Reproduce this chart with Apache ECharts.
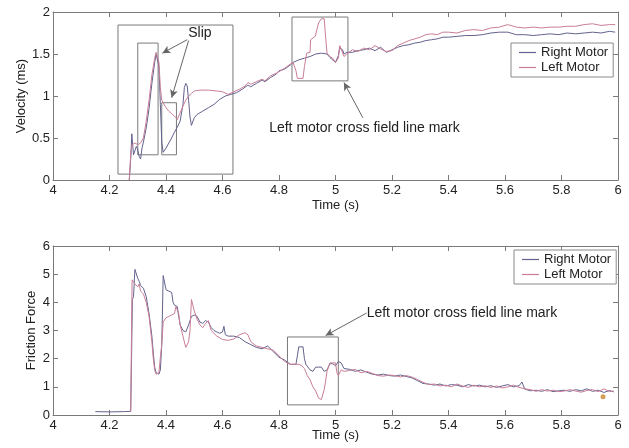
<!DOCTYPE html>
<html>
<head>
<meta charset="utf-8">
<script src="https://cdn.jsdelivr.net/npm/echarts@6/dist/echarts.min.js"></script>
<style>
html,body{margin:0;padding:0;background:#fff;}
#c{width:629px;height:448px;}
</style>
</head>
<body>
<div id="c"></div>
<script>
// ---------- DATA ----------
const timeTicks = ['4','4.2','4.4','4.6','4.8','5','5.2','5.4','5.6','5.8','6'];
const seriesNames = ['Right Motor', 'Left Motor'];

// Velocity (ms) vs Time (s) — [time, value]
const velRight = [
[4.270,0],[4.276,0.30],[4.279,0.55],[4.283,0.55],[4.285,0.30],[4.29,0.32],[4.295,0.40],[4.30,0.36],[4.305,0.28],[4.31,0.25],
[4.315,0.38],[4.32,0.45],[4.33,0.62],[4.34,0.85],[4.35,1.15],[4.36,1.40],[4.365,1.50],[4.37,1.48],[4.375,1.35],[4.38,0.90],
[4.385,0.45],[4.39,0.33],[4.395,0.33],[4.40,0.38],[4.41,0.44],[4.42,0.50],[4.43,0.57],[4.44,0.63],[4.45,0.70],[4.46,0.90],
[4.465,1.10],[4.47,1.15],[4.475,1.12],[4.48,0.95],[4.485,0.75],[4.49,0.65],[4.495,0.66],[4.50,0.74],[4.51,0.78],[4.52,0.80],
[4.53,0.82],[4.55,0.86],[4.57,0.90],[4.59,0.96],[4.61,1.00],[4.63,1.02],[4.65,1.04],[4.67,1.08],[4.69,1.13],[4.70,1.11],
[4.72,1.15],[4.74,1.19],[4.75,1.17],[4.77,1.22],[4.79,1.26],[4.80,1.30],[4.82,1.32],[4.84,1.37],[4.85,1.40],[4.87,1.43],
[4.89,1.45],[4.91,1.47],[4.93,1.50],[4.95,1.51],[4.97,1.50],[4.98,1.46],[4.99,1.43],[5.00,1.40],[5.01,1.48],[5.015,1.57],
[5.025,1.55],[5.03,1.50],[5.04,1.52],[5.06,1.52],[5.08,1.54],[5.10,1.55],[5.12,1.57],[5.14,1.54],[5.16,1.58],[5.18,1.52],
[5.20,1.55],[5.22,1.58],[5.24,1.60],[5.26,1.61],[5.28,1.63],[5.30,1.64],[5.32,1.66],[5.34,1.67],[5.36,1.68],[5.38,1.70],
[5.40,1.70],[5.43,1.71],[5.46,1.72],[5.49,1.72],[5.52,1.73],[5.55,1.75],[5.58,1.76],[5.61,1.76],[5.64,1.73],[5.67,1.73],
[5.70,1.72],[5.73,1.73],[5.76,1.74],[5.79,1.73],[5.82,1.75],[5.85,1.74],[5.88,1.75],[5.91,1.76],[5.94,1.75],[5.97,1.77],[5.99,1.76]
];
const velLeft = [
[4.270,0],[4.276,0.35],[4.28,0.42],[4.29,0.44],[4.30,0.42],[4.31,0.44],[4.32,0.50],[4.33,0.70],[4.34,0.95],[4.35,1.25],
[4.36,1.45],[4.365,1.52],[4.37,1.53],[4.375,1.40],[4.38,1.10],[4.385,0.95],[4.39,0.92],[4.40,0.86],[4.41,0.82],[4.42,0.79],
[4.43,0.76],[4.44,0.72],[4.45,0.80],[4.46,0.88],[4.47,0.95],[4.48,1.00],[4.49,1.03],[4.50,1.06],[4.52,1.07],[4.55,1.07],
[4.58,1.06],[4.60,1.05],[4.62,1.02],[4.64,1.05],[4.66,1.08],[4.68,1.12],[4.69,1.16],[4.70,1.14],[4.72,1.17],[4.74,1.20],
[4.75,1.18],[4.77,1.24],[4.79,1.27],[4.80,1.29],[4.82,1.33],[4.84,1.38],[4.85,1.40],[4.86,1.30],[4.865,1.21],[4.885,1.21],
[4.89,1.35],[4.898,1.51],[4.91,1.52],[4.912,1.67],[4.928,1.71],[4.935,1.80],[4.94,1.87],[4.95,1.92],[4.96,1.92],[4.965,1.70],
[4.97,1.51],[4.98,1.47],[4.99,1.45],[5.00,1.40],[5.01,1.45],[5.015,1.60],[5.022,1.60],[5.03,1.47],[5.04,1.50],[5.06,1.55],
[5.08,1.53],[5.10,1.57],[5.12,1.55],[5.14,1.60],[5.16,1.56],[5.18,1.53],[5.20,1.54],[5.22,1.60],[5.24,1.63],[5.26,1.66],
[5.28,1.68],[5.30,1.70],[5.32,1.73],[5.34,1.74],[5.36,1.73],[5.38,1.76],[5.40,1.76],[5.43,1.75],[5.46,1.78],[5.49,1.79],
[5.52,1.78],[5.55,1.81],[5.58,1.82],[5.61,1.85],[5.64,1.82],[5.67,1.81],[5.70,1.82],[5.73,1.81],[5.76,1.82],[5.79,1.82],
[5.82,1.83],[5.85,1.83],[5.88,1.85],[5.91,1.86],[5.94,1.84],[5.97,1.85],[5.99,1.85]
];

// Friction Force vs Time (s) — [time, value]
const fricRight = [
[4.15,0.12],[4.20,0.11],[4.25,0.12],[4.275,0.13],[4.278,2.0],[4.281,4.1],[4.285,4.2],[4.29,5.17],[4.295,5.17],[4.30,4.85],
[4.305,4.75],[4.31,4.6],[4.32,4.5],[4.33,4.2],[4.34,3.6],[4.35,2.8],[4.355,2.2],[4.36,1.7],[4.365,1.5],[4.37,1.45],
[4.375,1.45],[4.38,1.6],[4.385,2.5],[4.39,4.95],[4.395,4.9],[4.40,4.45],[4.41,4.4],[4.42,4.35],[4.425,4.0],[4.43,3.9],
[4.44,3.85],[4.445,3.5],[4.45,3.2],[4.46,3.0],[4.47,2.95],[4.48,3.2],[4.49,3.5],[4.50,3.55],[4.51,3.5],[4.52,3.3],
[4.53,3.25],[4.54,3.35],[4.55,3.3],[4.56,3.1],[4.57,3.0],[4.58,2.95],[4.59,2.9],[4.60,2.95],[4.605,3.15],[4.61,2.85],
[4.62,2.8],[4.64,2.8],[4.66,2.75],[4.68,2.6],[4.70,2.5],[4.72,2.4],[4.74,2.35],[4.76,2.45],[4.78,2.25],[4.80,2.05],
[4.82,1.95],[4.84,1.8],[4.86,1.8],[4.865,2.1],[4.87,2.42],[4.885,2.42],[4.89,2.0],[4.895,1.8],[4.90,1.8],[4.91,1.6],
[4.92,1.55],[4.93,1.7],[4.95,1.7],[4.96,1.55],[4.97,1.6],[4.98,1.82],[4.99,1.82],[5.00,1.75],[5.01,1.9],[5.02,1.85],
[5.03,1.65],[5.05,1.62],[5.07,1.55],[5.09,1.60],[5.11,1.52],[5.13,1.45],[5.15,1.42],[5.17,1.45],[5.19,1.40],[5.21,1.38],
[5.23,1.42],[5.25,1.37],[5.27,1.32],[5.29,1.22],[5.31,1.12],[5.33,1.10],[5.35,1.06],[5.37,1.10],[5.39,1.03],[5.41,1.08],
[5.43,1.06],[5.45,1.00],[5.47,1.08],[5.49,1.03],[5.51,1.06],[5.53,1.00],[5.55,1.04],[5.57,0.98],[5.59,1.03],[5.61,1.08],
[5.63,1.00],[5.65,1.04],[5.66,1.17],[5.67,0.92],[5.69,0.86],[5.71,0.88],[5.73,0.84],[5.75,0.90],[5.77,0.83],[5.79,0.86],
[5.81,0.88],[5.83,0.84],[5.85,0.90],[5.87,0.86],[5.89,0.93],[5.91,0.84],[5.93,0.88],[5.95,0.80],[5.97,0.87],[5.985,0.82]
];
const fricLeft = [
[4.275,0.13],[4.278,3.0],[4.28,4.8],[4.285,4.8],[4.29,4.65],[4.30,4.55],[4.305,4.65],[4.31,4.4],[4.32,4.3],[4.33,4.0],
[4.34,3.5],[4.35,2.6],[4.355,2.0],[4.36,1.6],[4.365,1.45],[4.37,1.45],[4.375,1.5],[4.38,2.05],[4.385,2.5],[4.39,3.3],
[4.40,3.45],[4.41,3.5],[4.42,3.55],[4.43,3.6],[4.435,3.85],[4.44,3.85],[4.445,3.6],[4.45,3.2],[4.46,2.8],[4.47,2.4],
[4.475,2.35],[4.48,2.6],[4.485,3.0],[4.49,4.1],[4.495,4.05],[4.50,3.7],[4.51,3.4],[4.52,3.2],[4.53,3.1],[4.54,3.25],
[4.55,3.35],[4.56,3.0],[4.58,2.8],[4.60,2.68],[4.62,2.65],[4.64,2.7],[4.66,2.85],[4.68,2.92],[4.69,2.85],[4.70,2.6],
[4.72,2.45],[4.74,2.4],[4.76,2.35],[4.78,2.3],[4.80,2.1],[4.82,1.9],[4.84,1.8],[4.87,1.8],[4.88,1.75],[4.89,1.65],
[4.90,1.4],[4.91,1.25],[4.92,1.0],[4.93,0.85],[4.94,0.6],[4.95,0.55],[4.955,0.58],[4.96,0.9],[4.965,1.2],[4.97,1.55],
[4.98,1.85],[4.99,1.85],[5.00,1.85],[5.005,1.5],[5.01,1.4],[5.02,1.6],[5.03,1.55],[5.05,1.58],[5.07,1.62],[5.09,1.50],
[5.11,1.55],[5.13,1.48],[5.15,1.40],[5.17,1.38],[5.19,1.42],[5.21,1.40],[5.23,1.35],[5.25,1.40],[5.27,1.35],[5.29,1.26],
[5.31,1.16],[5.33,1.08],[5.35,1.10],[5.37,1.03],[5.39,1.06],[5.41,1.00],[5.43,1.10],[5.45,1.03],[5.47,0.98],[5.49,1.06],
[5.51,1.00],[5.53,1.04],[5.55,0.98],[5.57,1.03],[5.59,0.96],[5.61,1.00],[5.63,1.06],[5.65,0.98],[5.67,0.93],[5.69,0.90],
[5.71,0.84],[5.73,0.90],[5.75,0.85],[5.77,0.88],[5.79,0.83],[5.81,0.85],[5.83,0.90],[5.85,0.85],[5.87,0.81],[5.89,0.87],
[5.91,0.90],[5.93,0.83],[5.95,0.93],[5.97,0.83],[5.985,0.85]
];
const fricMarker = [[5.947, 0.65]];

// Annotations (data coordinates)
const velBoxes = [[[4.23,0.07],[4.637,1.845]], [[4.30,0.30],[4.372,1.63]], [[4.385,0.30],[4.437,0.92]], [[4.846,1.18],[5.044,1.94]]];
const velArrows = [[[4.475,1.67],[4.387,1.51]], [[4.48,1.66],[4.42,0.98]], [[5.097,0.74],[5.03,1.16]]];
const velTexts = [['Slip',[4.52,1.75],'inside'], ['Left motor cross field line mark',[4.765,0.62],'right']];
const fricBoxes = [[[4.83,0.36],[5.01,2.77]]];
const fricArrows = [[[5.11,3.62],[4.965,2.82]]];
const fricTexts = [['Left motor cross field line mark',[5.11,3.62],'right']];

// ---------- CHART ----------
const RIGHT_C = '#62628e';
const LEFT_C = '#c97e96';
const AX_C = '#7a7a7a';
const FONT = 'Liberation Sans, Arial, sans-serif';

const chart = echarts.init(document.getElementById('c'), null, {renderer:'canvas'});

function box(b){ return [{coord:b[0]},{coord:b[1]}]; }
function arrow(a){ return [{coord:a[0]},{coord:a[1]}]; }
function txt(t){
  return {coord:t[1], value:t[0], symbol:'circle', symbolSize:0.1,
    itemStyle:{color:'rgba(0,0,0,0)'},
    label:{show:true, position:t[2], distance:0, formatter:t[0], color:'#222', fontSize:14, fontFamily:FONT}};
}
function annot(xi, yi, boxes, arrows, texts){
  return {type:'line', xAxisIndex:xi, yAxisIndex:yi, data:[], silent:true, z:5,
    markArea:{silent:true, itemStyle:{color:'rgba(0,0,0,0)', borderColor:'#7a7a7a', borderWidth:1}, data:boxes.map(box)},
    markLine:{silent:true, symbol:['none','arrow'], symbolSize:[6,8], lineStyle:{color:'#666', type:'solid', width:1},
      label:{show:false}, emphasis:{disabled:true}, data:arrows.map(arrow)},
    markPoint:{silent:true, data:texts.map(txt)}
  };
}

const grids = [
  {left:53, right:11, top:12, height:168},
  {left:53, right:11, top:246, height:169}
];
function xMain(gi, nameGap){
  return {type:'value', gridIndex:gi, min:4, max:6, interval:0.2, name:'Time (s)', nameLocation:'middle', nameGap:nameGap,
    nameMoveOverlap:false,
    nameTextStyle:{color:'#222', fontSize:13, fontFamily:FONT},
    axisLine:{show:true, onZero:false, lineStyle:{color:AX_C}},
    axisTick:{show:true, inside:true, length:5, lineStyle:{color:AX_C}},
    axisLabel:{color:'#222', fontSize:13, fontFamily:FONT, margin:4,
      formatter:(v)=>{ const i = Math.round((v-4)/0.2); return timeTicks[i] !== undefined ? timeTicks[i] : ''; }},
    splitLine:{show:false}};
}
function xTop(gi){
  return {type:'value', gridIndex:gi, min:4, max:6, interval:0.2, position:'top',
    axisLine:{show:true, onZero:false, lineStyle:{color:AX_C}},
    axisTick:{show:true, inside:true, length:5, lineStyle:{color:AX_C}},
    axisLabel:{show:false}, splitLine:{show:false}};
}
function yMain(gi, max, interval, name, nameGap){
  return {type:'value', gridIndex:gi, min:0, max:max, interval:interval, name:name, nameLocation:'middle', nameGap:nameGap,
    nameMoveOverlap:false,
    nameTextStyle:{color:'#222', fontSize:13, fontFamily:FONT},
    axisLine:{show:true, onZero:false, lineStyle:{color:AX_C}},
    axisTick:{show:true, inside:true, length:5, lineStyle:{color:AX_C}},
    axisLabel:{color:'#222', fontSize:13, fontFamily:FONT, margin:3},
    splitLine:{show:false}};
}
function yRight(gi, max, interval){
  return {type:'value', gridIndex:gi, min:0, max:max, interval:interval, position:'right',
    axisLine:{show:true, onZero:false, lineStyle:{color:AX_C}},
    axisTick:{show:true, inside:true, length:5, lineStyle:{color:AX_C}},
    axisLabel:{show:false}, splitLine:{show:false}};
}
function lineSeries(name, xi, yi, data, color){
  return {type:'line', name:name, xAxisIndex:xi, yAxisIndex:yi, data:data, showSymbol:false, symbol:'none',
    lineStyle:{color:color, width:1}, itemStyle:{color:color}, animation:false, z:3};
}
function legendAt(left, top){
  return {data:seriesNames, orient:'vertical', left:left, top:top, itemGap:2, itemWidth:17, itemHeight:1.2, icon:'rect',
    padding:[3,5,3,8], borderColor:'#8a8a8a', borderWidth:1, backgroundColor:'#fff',
    textStyle:{color:'#222', fontSize:13, fontFamily:FONT}, selectedMode:false};
}

chart.setOption({
  animation:false,
  backgroundColor:'#fff',
  grid: grids,
  xAxis: [xMain(0,19), xTop(0), xMain(1,14), xTop(1)],
  yAxis: [yMain(0,2,0.5,'Velocity (ms)',25), yRight(0,2,0.5), yMain(1,6,1,'Friction Force',15), yRight(1,6,1)],
  legend: [legendAt(511,43), legendAt(514,250)],
  series: [
    lineSeries(seriesNames[0],0,0,velRight,RIGHT_C),
    lineSeries(seriesNames[1],0,0,velLeft,LEFT_C),
    lineSeries(seriesNames[0],2,2,fricRight,RIGHT_C),
    lineSeries(seriesNames[1],2,2,fricLeft,LEFT_C),
    {type:'scatter', xAxisIndex:2, yAxisIndex:2, data:fricMarker, symbolSize:5, itemStyle:{color:'#c8862a'}, z:4},
    annot(0,0,velBoxes,velArrows,velTexts),
    annot(2,2,fricBoxes,fricArrows,fricTexts)
  ]
});
</script>
</body>
</html>
